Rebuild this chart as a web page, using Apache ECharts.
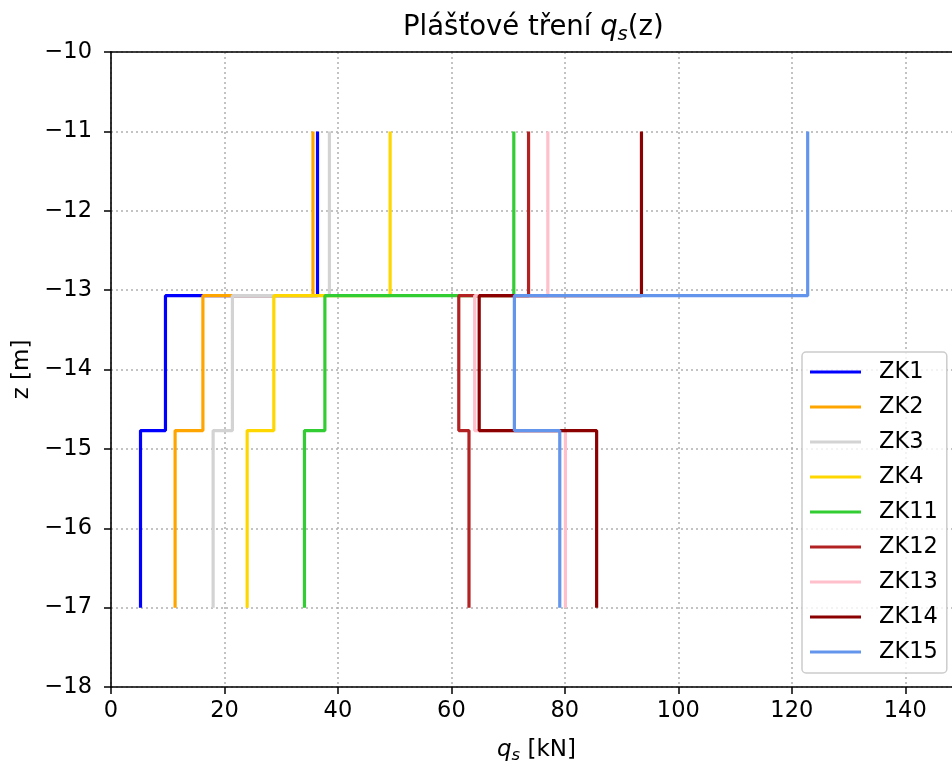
<!DOCTYPE html>
<html>
<head>
<meta charset="utf-8">
<script src="https://cdn.jsdelivr.net/npm/echarts@6/dist/echarts.min.js"></script>
<style>
  html, body { margin: 0; padding: 0; background: #fff; }
  #chart { width: 952px; height: 762px; }
</style>
</head>
<body>
<div id="chart"></div>
<script>
// hloubky vrstev (z)
const zTop = -11
const zBreak1 = -13.07
const zBreak2 = -14.77
const zBottom = -17

const names = ['ZK1', 'ZK2', 'ZK3', 'ZK4', 'ZK11', 'ZK12', 'ZK13', 'ZK14', 'ZK15']
const colors = ['#0000ff', '#ffa500', '#d3d3d3', '#ffd700', '#32cd32', '#b22222', '#ffc0cb', '#8b0000', '#6495ed']

// qs ve vrstvach: horni, stredni, spodni
const qsTop = [36.4, 35.6, 38.5, 49.2, 71.0, 73.6, 77.0, 93.5, 122.8]
const qsMid = [9.6, 16.2, 21.4, 28.7, 37.7, 61.3, 64.1, 64.9, 71.1]
const qsBottom = [5.2, 11.3, 18.0, 24.0, 34.1, 63.1, 80.1, 85.6, 79.1]

const xTicks = { min: 0, max: 150, interval: 20 }
const yTicks = { min: -18, max: -10, interval: 1 }

const font = 'DejaVu Sans'

const series = names.map((name, i) => ({
  name: name,
  type: 'line',
  symbol: 'none',
  color: colors[i],
  lineStyle: { width: 3.2, color: colors[i] },
  data: [
    [qsTop[i], zTop],
    [qsTop[i], zBreak1],
    [qsMid[i], zBreak1],
    [qsMid[i], zBreak2],
    [qsBottom[i], zBreak2],
    [qsBottom[i], zBottom]
  ]
}))

const gridLine = { show: true, lineStyle: { color: '#b0b0b0', width: 1.5, type: [2, 3] } }
const spine = { show: true, onZero: false, lineStyle: { color: '#000', width: 1.6 } }
const tick = { show: true, length: 7, lineStyle: { color: '#000', width: 1.5 } }

const chart = echarts.init(document.getElementById('chart'))
chart.setOption({
  animation: false,
  backgroundColor: '#fff',
  title: {
    text: '{a|Plášťové tření }{q|q}{s|s}{a|(z)}',
    left: 403,
    top: 11,
    padding: 0,
    textStyle: {
      rich: {
        a: { fontFamily: font, fontSize: 27.5, fontWeight: 'normal', color: '#000', lineHeight: 34 },
        q: { fontFamily: font, fontSize: 27.5, fontWeight: 'normal', fontStyle: 'italic', color: '#000', lineHeight: 34 },
        s: { fontFamily: font, fontSize: 19.5, fontWeight: 'normal', fontStyle: 'italic', color: '#000', lineHeight: 15, verticalAlign: 'bottom' }
      }
    }
  },
  grid: {
    left: 111,
    top: 52,
    width: 851,
    height: 635,
    outerBoundsMode: 'none',
    containLabel: false
  },
  legend: {
    orient: 'vertical',
    left: 802,
    top: 352,
    padding: [7, 9, 8, 8],
    itemGap: 9,
    itemWidth: 51,
    itemHeight: 3,
    icon: 'rect',
    textStyle: { fontFamily: font, fontSize: 22.5, color: '#000', lineHeight: 26, padding: [0, 0, 0, 13] },
    backgroundColor: 'rgba(255,255,255,0.8)',
    borderColor: '#cccccc',
    borderWidth: 1.5,
    borderRadius: 4,
    data: names
  },
  xAxis: [{
    type: 'value',
    min: xTicks.min,
    max: xTicks.max,
    interval: xTicks.interval,
    name: '{q|q}{s|s}{a| [kN]}',
    nameLocation: 'middle',
    nameGap: 49,
    nameTextStyle: {
      rich: {
        a: { fontFamily: font, fontSize: 23, color: '#000', lineHeight: 28 },
        q: { fontFamily: font, fontSize: 23, fontStyle: 'italic', color: '#000', lineHeight: 28 },
        s: { fontFamily: font, fontSize: 16.5, fontStyle: 'italic', color: '#000', lineHeight: 13, verticalAlign: 'bottom' }
      }
    },
    axisLine: spine,
    axisTick: tick,
    axisLabel: {
      fontFamily: font,
      fontSize: 22.5,
      color: '#000',
      margin: 13,
      formatter: v => (v > 140 ? '' : String(v))
    },
    splitLine: gridLine
  }, {
    type: 'value',
    position: 'top',
    min: xTicks.min,
    max: xTicks.max,
    interval: xTicks.interval,
    axisLine: spine,
    axisTick: { show: false },
    axisLabel: { show: false },
    splitLine: { show: false }
  }],
  yAxis: {
    type: 'value',
    min: yTicks.min,
    max: yTicks.max,
    interval: yTicks.interval,
    name: 'z [m]',
    nameLocation: 'middle',
    nameRotate: 90,
    nameGap: 76,
    nameTextStyle: { fontFamily: font, fontSize: 23, color: '#000' },
    axisLine: spine,
    axisTick: tick,
    axisLabel: {
      fontFamily: font,
      fontSize: 22.5,
      color: '#000',
      margin: 19,
      formatter: v => (v < 0 ? '\u2212' + Math.abs(v) : String(v))
    },
    splitLine: gridLine
  },
  series: series
})
</script>
</body>
</html>
